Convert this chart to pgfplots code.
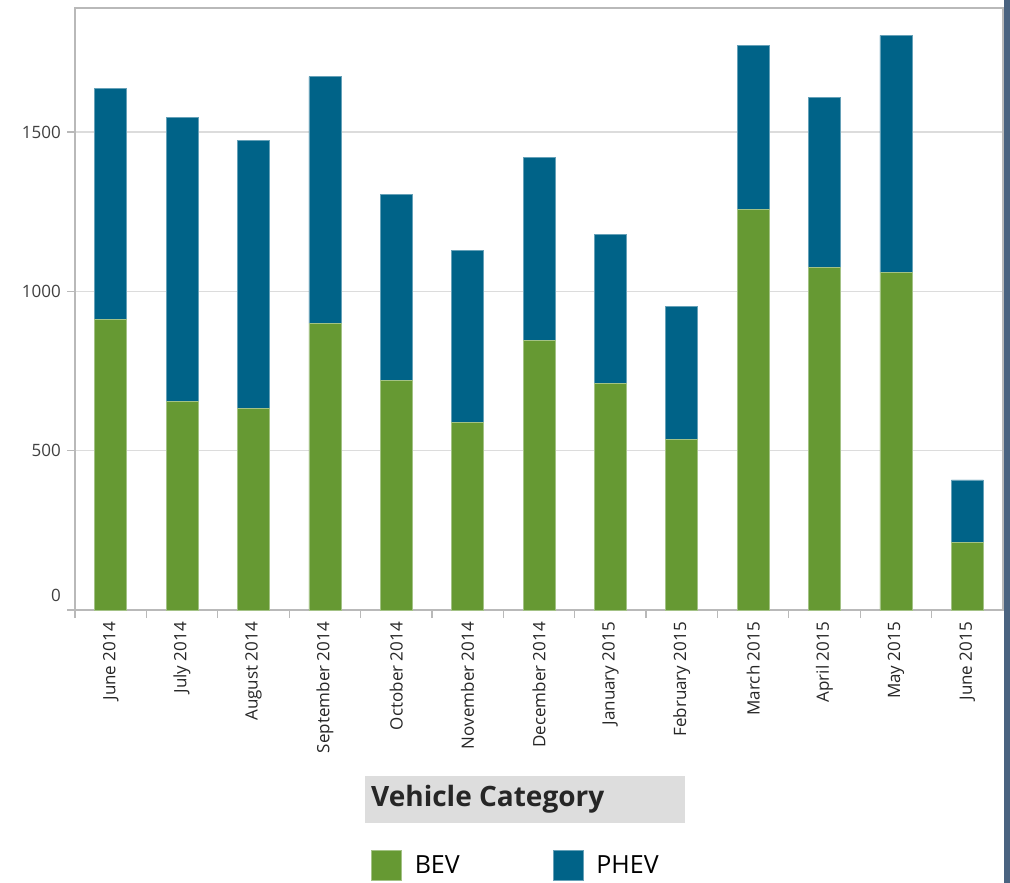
\documentclass[border=0pt]{standalone}
\usepackage{fontspec}
\setmainfont{Open Sans}
\usepackage{pgfplots}
\pgfplotsset{compat=1.18}
\definecolor{bev}{RGB}{102,153,51}
\definecolor{phev}{RGB}{0,99,136}
\definecolor{gridc}{RGB}{220,220,220}
\definecolor{axc}{RGB}{185,185,185}
\definecolor{legbg}{RGB}{221,221,221}
\definecolor{edgec}{RGB}{74,99,128}
\begin{document}
\begin{tikzpicture}[x=1pt,y=1pt]
\path[use as bounding box] (0,0) rectangle (1010,-883);
\begin{axis}[
  at={(75pt,-610pt)}, anchor=south west,
  scale only axis, width=928pt, height=602pt,
  xmin=-0.5, xmax=12.5, ymin=0, ymax=1889,
  ybar stacked, bar width=32pt,
  axis line style={axc, line width=1.2pt},
  tick align=outside, major tick length=8pt,
  tick style={axc, line width=1.2pt},
  xtick pos=bottom, ytick pos=left,
  xtick={0,...,12},
  xticklabels={June 2014,July 2014,August 2014,September 2014,October 2014,November 2014,December 2014,January 2015,February 2015,March 2015,April 2015,May 2015,June 2015},
  major x tick style={draw=none},
  xticklabel style={rotate=90, anchor=east, inner sep=0pt, font=\fontsize{17}{17}\selectfont, text=black!85},
  xticklabel shift=4pt,
  extra x ticks={-0.5,0.5,...,11.5},
  extra x tick labels={},
  extra x tick style={major x tick style={draw=axc, line width=1.2pt}},
  ytick={0,500,1000,1500},
  yticklabels={\raisebox{9pt}[0pt][0pt]{0},500,1000,1500},
  yticklabel style={inner sep=0pt, font=\fontsize{17}{17}\selectfont, text=black!75},
  yticklabel shift=6pt,
  ymajorgrids, grid style={gridc, line width=1.2pt},
  legend columns=2,
  legend image code/.code={\fill[#1] (0pt,-15pt) rectangle (30pt,15pt);},
  legend style={at={(axis description cs:0.3157,-0.4236)}, anchor=west, draw=none, fill=none,
    font=\fontsize{25}{25}\selectfont, nodes={inner sep=0pt, anchor=west},
    /tikz/every odd column/.append style={column sep=13pt},
    /tikz/every even column/.append style={column sep=93pt}},
]
\addplot[fill=bev, draw=bev!60!white, line width=0.6pt] coordinates {
(0,912) (1,655) (2,633) (3,900) (4,721) (5,589) (6,846) (7,712) (8,536) (9,1257) (10,1075) (11,1060) (12,213)};
\addplot[fill=phev, draw=phev!60!white, line width=0.6pt] coordinates {
(0,724) (1,891) (2,840) (3,774) (4,583) (5,540) (6,574) (7,467) (8,417) (9,514) (10,533) (11,743) (12,195)};
\legend{BEV,PHEV}
\end{axis}
\node[fill=legbg, minimum width=320pt, minimum height=47pt, anchor=north west, inner sep=0pt] at (365,-776) {};
\node[anchor=west, inner sep=0pt, font=\fontsize{28}{28}\bfseries\selectfont, text=black!85] at (371,-799) {Vehicle Category};
\fill[edgec] (1004,0) rectangle (1010,-883);
\end{tikzpicture}
\end{document}
